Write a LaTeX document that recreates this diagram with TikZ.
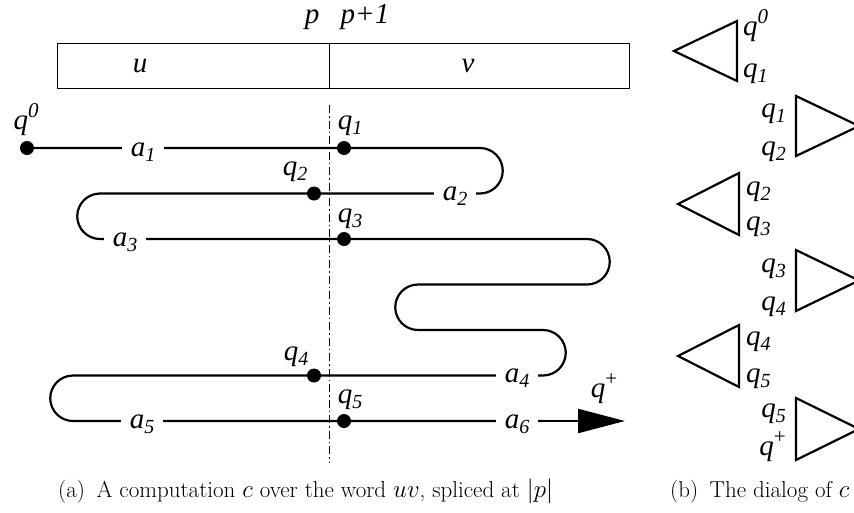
\documentclass[tikz,border=0pt]{standalone}
\usepackage{fontspec}
\newfontfamily\tms{Liberation Serif}
\usetikzlibrary{arrows.meta}
\tikzset{
  lab/.style={font=\tms\itshape\fontsize{29}{30}\selectfont, inner sep=0pt, anchor=base},
  alab/.style={lab, fill=white, inner xsep=9pt, inner ysep=3pt},
  dot/.style={circle, fill=black, inner sep=0pt, minimum size=14pt},
  trace/.style={line width=2.2pt},
  cell/.style={draw, line width=1pt},
  tri/.style={draw, line width=2.2pt, line join=miter},
  captxt/.style={font=\fontsize{23}{25}\selectfont, inner sep=0pt, anchor=base west},
}
\newcommand{\sbs}[1]{\raisebox{-0.18em}{\fontsize{20}{20}\selectfont #1}}
\newcommand{\sps}[1]{\raisebox{0.38em}{\fontsize{21}{21}\selectfont #1}}
\newcommand{\qs}[1]{q\sbs{#1}}
\newcommand{\qp}[1]{q\sps{#1}}
\begin{document}
\begin{tikzpicture}[x=1pt,y=-1pt]
\useasboundingbox (0,0) rectangle (854,512);
% word box
\node[cell, minimum width=272pt, minimum height=45pt, anchor=north west, inner sep=0pt] (ubox) at (57,43) {};
\node[cell, minimum width=300pt, minimum height=45pt, anchor=north west, inner sep=0pt] (vbox) at (329,43) {};
\node[lab] (u) at (140,72) {u};
\node[lab] (v) at (468,72) {v};
\node[lab] (p) at (312,23) {p};
\node[lab] (p1) at (365,23) {p+1};
% splice line
\coordinate (st) at (329,105);
\coordinate (sb) at (329,462);
\draw[line width=1pt, dash pattern=on 8pt off 3pt on 1.5pt off 3pt] (st) -- (sb);
% trace
\coordinate (s0) at (27,148);
\coordinate (r1) at (480,148);
\coordinate (r2) at (100,193.5);
\coordinate (r3) at (587,239);
\coordinate (r4) at (418,284.5);
\coordinate (r5) at (543,330);
\coordinate (r6) at (73,375.5);
\coordinate (r7) at (625,421);
\draw[trace] (s0) -- (r1) arc[start angle=90, end angle=-90, radius=22.75pt]
  -- (r2) arc[start angle=90, end angle=270, radius=22.75pt]
  -- (r3) arc[start angle=90, end angle=-90, radius=22.75pt]
  -- (r4) arc[start angle=90, end angle=270, radius=22.75pt]
  -- (r5) arc[start angle=90, end angle=-90, radius=22.75pt]
  -- (r6) arc[start angle=90, end angle=270, radius=22.75pt]
  -- (r7 -| r5);
\node[alab] (a1) at (143,156) {a\sbs{1}};
\node[alab] (a2) at (455,200.5) {a\sbs{2}};
\node[alab] (a3) at (125,246) {a\sbs{3}};
\node[alab] (a4) at (517,382.5) {a\sbs{4}};
\node[alab] (a5) at (142,428) {a\sbs{5}};
\node[alab] (a6) at (517,428) {a\sbs{6}};
\draw[trace, -{Triangle[length=47pt, width=24pt]}] (a6.east |- r7) -- (r7);
% dots
\node[dot] (d0) at (s0) {};
\node[dot] (d1) at (344,148) {};
\node[dot] (d2) at (314,193.5) {};
\node[dot] (d3) at (344,239) {};
\node[dot] (d4) at (314,375.5) {};
\node[dot] (d5) at (344,421) {};
\node[lab] (lq0) at (26,129) {\qp{0}};
\node[lab] (lq1) at (350,129) {\qs{1}};
\node[lab] (lq2) at (295,175) {\qs{2}};
\node[lab] (lq3) at (350,222) {\qs{3}};
\node[lab] (lq4) at (296,360) {\qs{4}};
\node[lab] (lq5) at (350,403) {\qs{5}};
\node[lab] (lqp) at (604,397) {q\sps{\upshape +}};
% dialog triangles
\draw[tri] (737,21) -- (674,51) -- (737,81) -- cycle;
\draw[tri] (796,96) -- (859,126) -- (796,156) -- cycle;
\draw[tri] (739,173) -- (678,204) -- (739,235) -- cycle;
\draw[tri] (796,250) -- (859,280.5) -- (796,311) -- cycle;
\draw[tri] (739,325) -- (678,356) -- (739,387) -- cycle;
\draw[tri] (796,398) -- (859,429) -- (796,460) -- cycle;
\node[lab, anchor=base west] (t1a) at (743,35) {\qp{0}};
\node[lab, anchor=base west] (t1b) at (743,77) {\qs{1}};
\node[lab, anchor=base east] (t2a) at (786,117) {\qs{1}};
\node[lab, anchor=base east] (t2b) at (786,155) {\qs{2}};
\node[lab, anchor=base west] (t3a) at (746,195) {\qs{2}};
\node[lab, anchor=base west] (t3b) at (746,230) {\qs{3}};
\node[lab, anchor=base east] (t4a) at (786,272) {\qs{3}};
\node[lab, anchor=base east] (t4b) at (786,310) {\qs{4}};
\node[lab, anchor=base west] (t5a) at (746,345) {\qs{4}};
\node[lab, anchor=base west] (t5b) at (746,382) {\qs{5}};
\node[lab, anchor=base east] (t6a) at (786,417) {\qs{5}};
\node[lab, anchor=base east] (t6b) at (786,455) {q\sps{\upshape +}};
% captions
\node[captxt] (capa) at (58,497) {(a)\enspace A computation $c$ over the word $uv$, spliced at $|p|$};
\node[captxt] (capb) at (670,497) {(b)\enspace The dialog of $c$};
\end{tikzpicture}
\end{document}
